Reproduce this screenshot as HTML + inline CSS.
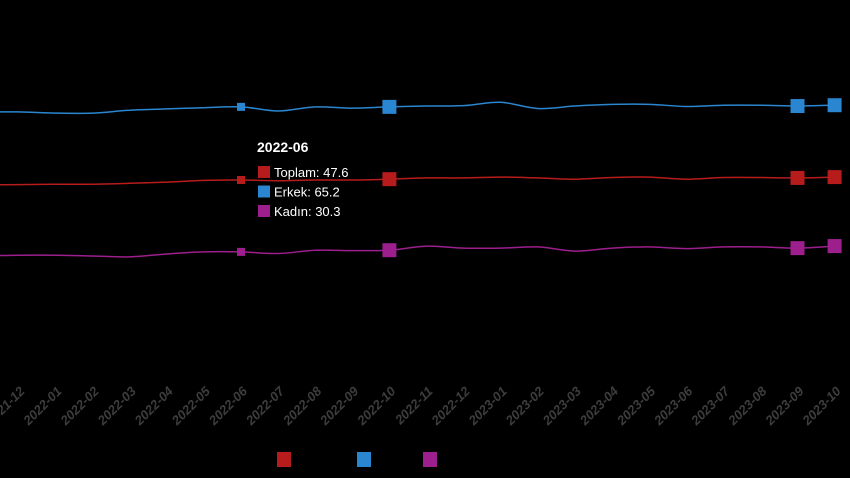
<!DOCTYPE html>
<html><head><meta charset="utf-8"><style>
html,body{margin:0;padding:0;background:#000;width:850px;height:478px;overflow:hidden}
svg{display:block}
text{font-family:"Liberation Sans",sans-serif}
</style></head><body>
<svg id="chart" width="850" height="478" viewBox="0 0 850 478"></svg>
<script>
const categories=["2021-11","2021-12","2022-01","2022-02","2022-03","2022-04","2022-05","2022-06","2022-07","2022-08","2022-09","2022-10","2022-11","2022-12","2023-01","2023-02","2023-03","2023-04","2023-05","2023-06","2023-07","2023-08","2023-09","2023-10"];
const toplam=[46.4,46.5,46.6,46.6,46.8,47.1,47.5,47.6,47.4,47.6,47.6,47.8,48.1,48.1,48.3,48.1,47.8,48.2,48.3,47.8,48.2,48.2,48.1,48.3];
const erkek=[64.0,64.0,63.7,63.7,64.4,64.7,65.0,65.2,64.2,65.2,64.9,65.2,65.4,65.5,66.3,64.8,65.4,65.8,65.8,65.3,65.6,65.6,65.4,65.6];
const kadin=[29.3,29.5,29.5,29.3,29.1,29.8,30.3,30.3,29.9,30.7,30.6,30.7,31.7,31.2,31.2,31.5,30.5,31.2,31.5,31.1,31.5,31.5,31.2,31.7];
const seriesNames=["Toplam","Erkek","Kadın"];
const bigMarkers=["2022-10","2023-09","2023-10"];
const hoverCat="2022-06";

const NS="http://www.w3.org/2000/svg";
const svg=document.getElementById('chart');
const x=i=>18.4+(i-1)*37.1;
const y=v=>180-(v-47.6)*4.155;
function mk(tag,attrs,parent){const e=document.createElementNS(NS,tag);for(const k in attrs)e.setAttribute(k,attrs[k]);(parent||svg).appendChild(e);return e;}
function smooth(pts){let d='M'+pts[0][0].toFixed(1)+' '+pts[0][1].toFixed(1);
 for(let i=0;i<pts.length-1;i++){const p0=pts[i-1]||pts[i],p1=pts[i],p2=pts[i+1],p3=pts[i+2]||p2;
  const c1x=p1[0]+(p2[0]-p0[0])/6,c1y=p1[1]+(p2[1]-p0[1])/6,c2x=p2[0]-(p3[0]-p1[0])/6,c2y=p2[1]-(p3[1]-p1[1])/6;
  d+=` C${c1x.toFixed(1)} ${c1y.toFixed(1)} ${c2x.toFixed(1)} ${c2y.toFixed(1)} ${p2[0].toFixed(1)} ${p2[1].toFixed(1)}`;}
 return d;}
const series=[{n:seriesNames[0],d:toplam,c:"#b71c1c"},{n:seriesNames[1],d:erkek,c:"#2a86d0"},{n:seriesNames[2],d:kadin,c:"#9c1f8d"}];
categories.forEach((c,i)=>{if(i===0)return;
 const ax=x(i)+7,ay=392;
 const t=mk('text',{x:ax,y:ay,'text-anchor':'end',transform:`rotate(-45 ${ax} ${ay})`,fill:'#3d3d3d','font-size':'13','font-weight':'bold','font-style':'italic'});
 
 
 t.textContent=c;});
series.forEach(s=>{
 const p=mk('path',{d:smooth(s.d.map((v,i)=>[x(i),y(v)])),fill:'none',stroke:s.c,'stroke-width':'1.5'});
 
 
 s.d.forEach((v,i)=>{
  let sz=0;
  if(bigMarkers.includes(categories[i]))sz=14; else if(categories[i]===hoverCat)sz=8;
  if(!sz)return;
  const r=mk('rect',{x:x(i)-sz/2,y:y(v)-sz/2,width:sz,height:sz,fill:s.c});
  
  
 });
});
const hi=categories.indexOf(hoverCat);
const tg=mk('g',{});


const tt=mk('text',{x:257,y:152,fill:'#fff','font-size':'14','font-weight':'bold'},tg);tt.textContent=hoverCat;
series.forEach((s,k)=>{
 const yy=172+k*19.5;
 mk('rect',{x:258,y:yy-6,width:12,height:12,fill:s.c},tg);
 const t=mk('text',{x:274,y:yy+5,fill:'#fff','font-size':'13'},tg);
 t.textContent=s.n+': '+s.d[hi].toFixed(1);
});
const lx=[277,357,423];
series.forEach((s,k)=>{
 const r=mk('rect',{x:lx[k],y:452,width:14,height:15,fill:s.c});
 
 
});
</script>
</body></html>
